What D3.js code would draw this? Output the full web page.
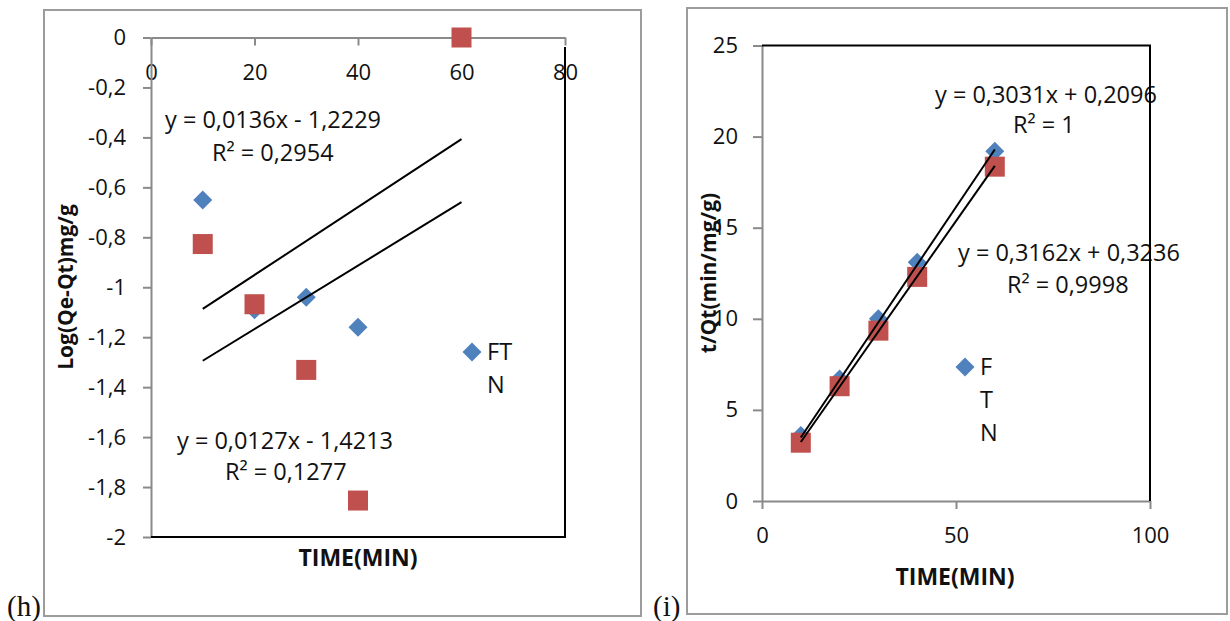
<!DOCTYPE html>
<html>
<head>
<meta charset="utf-8">
<script src="https://cdn.jsdelivr.net/npm/d3@7"></script>
<style>
body { margin: 0; background: #fff; }
svg text { font-family: "Open Sans", sans-serif; fill: #111; }
</style>
</head>
<body>
<div class="container"></div>
<script>
// panel (h): log(Qe-Qt) vs time
var hTime = [10, 20, 30, 40, 60];
var hFT = [-0.651, -1.09, -1.04, -1.16, null];
var hN = [-0.827, -1.068, -1.331, -1.854, 0];
var hXTicks = [0, 20, 40, 60, 80];
var hYTicks = [0, -0.2, -0.4, -0.6, -0.8, -1, -1.2, -1.4, -1.6, -1.8, -2];
var hSlopes = [0.0136, 0.0127];
var hIntercepts = [-1.2229, -1.4213];
var hEquations = ["y = 0,0136x - 1,2229", "y = 0,0127x - 1,4213"];
var hR2 = ["R\u00B2 = 0,2954", "R\u00B2 = 0,1277"];

// panel (i): t/Qt vs time
var iTime = [10, 20, 30, 40, 60];
var iFT = [3.6, 6.7, 10.0, 13.1, 19.2];
var iN = [3.2, 6.3, 9.35, 12.3, 18.35];
var iXTicks = [0, 50, 100];
var iYTicks = [0, 5, 10, 15, 20, 25];
var iSlopes = [0.3162, 0.3031];
var iIntercepts = [0.3236, 0.2096];
var iEquations = ["y = 0,3031x + 0,2096", "y = 0,3162x + 0,3236"];
var iR2 = ["R\u00B2 = 1", "R\u00B2 = 0,9998"];

var fitRange = [10, 60];
var blue = "#4f81bd", red = "#c0504d";
var axisGray = "#8a8a8a", frameGray = "#9c9c9c";

function commaFmt(d) { return String(d).replace(".", ","); }

function makeStage(width, height) {
    var stage = d3.select(".container")
    .insert("svg")
    .attr("width", width)
    .attr("height", height);
    return stage;
}

function styleAxis(g) {
    g.select(".domain").attr("stroke", axisGray).attr("stroke-width", 2);
    g.selectAll(".tick line").attr("stroke", axisGray).attr("stroke-width", 2);
    g.selectAll(".tick text").attr("fill", "#111").style("font-size", "22px")
        .attr("font-family", null);
}

function drawMarkers(stage, x, y, xs, ys, kind) {
    var pts = xs.map(function (d, k) { return [d, ys[k]]; })
        .filter(function (p) { return p[1] !== null; });
    var sel = stage.append("g").selectAll("rect").data(pts).enter().append("rect");
    if (kind == "diamond") {
        sel.attr("x", -6.7).attr("y", -6.7).attr("width", 13.4).attr("height", 13.4)
        .attr("transform", function (p) { return "translate(" + x(p[0]) + "," + y(p[1]) + ") rotate(45)"; })
        .style("fill", blue);
    } else {
        sel.attr("x", function (p) { return x(p[0]) - 10; })
        .attr("y", function (p) { return y(p[1]) - 10; })
        .attr("width", 20).attr("height", 20)
        .style("fill", red);
    }
}

function drawFits(stage, x, y, slopes, intercepts) {
    var line = d3.line().x(function (d) { return x(d[0]); }).y(function (d) { return y(d[1]); });
    slopes.forEach(function (m, k) {
        var pts = fitRange.map(function (t) { return [t, m * t + intercepts[k]]; });
        stage.append("path").attr("d", line(pts))
        .attr("fill", "none").attr("stroke", "#000").attr("stroke-width", 2);
    });
}

function addText(stage, x, y, txt, opts) {
    opts = opts || {};
    var t = stage.append("text").attr("x", x).attr("y", y).text(txt)
        .style("font-size", (opts.size || 23.5) + "px");
    if (opts.bold) t.style("font-weight", "bold");
    if (opts.anchor) t.attr("text-anchor", opts.anchor);
    if (opts.rotate) t.attr("transform", "rotate(-90," + x + "," + y + ")");
    if (opts.family) t.style("font-family", opts.family);
    return t;
}

var svg = makeStage(1230, 621);

// ---------- panel (h) ----------
svg.append("rect").attr("x", 44).attr("y", 10).attr("width", 597).attr("height", 606)
    .attr("fill", "none").attr("stroke", frameGray).attr("stroke-width", 2);

var hx = d3.scaleLinear().domain([0, 80]).range([151, 565]);
var hy = d3.scaleLinear().domain([-2, 0]).range([537, 37.5]);

var hxAxis = svg.append("g").attr("transform", "translate(0," + hy(0) + ")")
    .call(d3.axisBottom(hx).tickValues(hXTicks).tickSize(8).tickSizeOuter(0).tickFormat(commaFmt));
styleAxis(hxAxis);
hxAxis.selectAll(".tick text").attr("y", 42.5).attr("dy", 0);

var hyAxis = svg.append("g").attr("transform", "translate(" + hx(0) + ",0)")
    .call(d3.axisLeft(hy).tickValues(hYTicks).tickSize(8).tickSizeOuter(0).tickPadding(17).tickFormat(commaFmt));
styleAxis(hyAxis);

addText(svg, 73, 287, "Log(Qe-Qt)mg/g", {bold: true, anchor: "middle", rotate: true, size: 21});
addText(svg, 358, 566, "TIME(MIN)", {bold: true, anchor: "middle", size: 23});

drawMarkers(svg, hx, hy, hTime, hFT, "diamond");
drawMarkers(svg, hx, hy, hTime, hN, "square");
drawFits(svg, hx, hy, hSlopes, hIntercepts);

addText(svg, 165, 128, hEquations[0]);
addText(svg, 212, 161, hR2[0]);
addText(svg, 177, 449, hEquations[1]);
addText(svg, 225, 480, hR2[1]);

// legend
svg.append("rect").attr("x", -6.7).attr("y", -6.7).attr("width", 13.4).attr("height", 13.4)
    .attr("transform", "translate(472,352) rotate(45)").style("fill", blue);
addText(svg, 487, 360, "FT");
addText(svg, 487, 393, "N");

// plot area border (black)
svg.append("path").attr("d", "M" + hx(0) + "," + hy(-2) + "H" + hx(80) + "V47")
    .attr("fill", "none").attr("stroke", "#000").attr("stroke-width", 2);

addText(svg, 7, 616, "(h)", {family: "'Liberation Serif', serif", size: 29});

// ---------- panel (i) ----------
svg.append("rect").attr("x", 687).attr("y", 8).attr("width", 540).attr("height", 606)
    .attr("fill", "none").attr("stroke", frameGray).attr("stroke-width", 2);

var ix = d3.scaleLinear().domain([0, 100]).range([762, 1150]);
var iy = d3.scaleLinear().domain([0, 25]).range([501, 45.5]);

var ixAxis = svg.append("g").attr("transform", "translate(0," + iy(0) + ")")
    .call(d3.axisBottom(ix).tickValues(iXTicks).tickSize(8).tickSizeOuter(0).tickFormat(commaFmt));
styleAxis(ixAxis);
ixAxis.selectAll(".tick text").attr("y", 42).attr("dy", 0);

var iyAxis = svg.append("g").attr("transform", "translate(" + ix(0) + ",0)")
    .call(d3.axisLeft(iy).tickValues(iYTicks).tickSize(9).tickSizeOuter(0).tickPadding(15).tickFormat(commaFmt));
styleAxis(iyAxis);

addText(svg, 716, 273, "t/Qt(min/mg/g)", {bold: true, anchor: "middle", rotate: true, size: 21});
addText(svg, 955, 585, "TIME(MIN)", {bold: true, anchor: "middle", size: 23});

drawMarkers(svg, ix, iy, iTime, iFT, "diamond");
drawMarkers(svg, ix, iy, iTime, iN, "square");
drawFits(svg, ix, iy, iSlopes, iIntercepts);

addText(svg, 935, 103, iEquations[0]);
addText(svg, 1013, 133, iR2[0]);
addText(svg, 958, 261, iEquations[1]);
addText(svg, 1007, 293, iR2[1]);

svg.append("rect").attr("x", -6.7).attr("y", -6.7).attr("width", 13.4).attr("height", 13.4)
    .attr("transform", "translate(965,367) rotate(45)").style("fill", blue);
addText(svg, 980, 375, "F");
addText(svg, 980, 408, "T");
addText(svg, 980, 441, "N");

svg.append("path").attr("d", "M" + ix(0) + "," + iy(25) + "H" + ix(100) + "V" + iy(0))
    .attr("fill", "none").attr("stroke", "#000").attr("stroke-width", 2);

addText(svg, 653, 616, "(i)", {family: "'Liberation Serif', serif", size: 29});
</script>
</body>
</html>
